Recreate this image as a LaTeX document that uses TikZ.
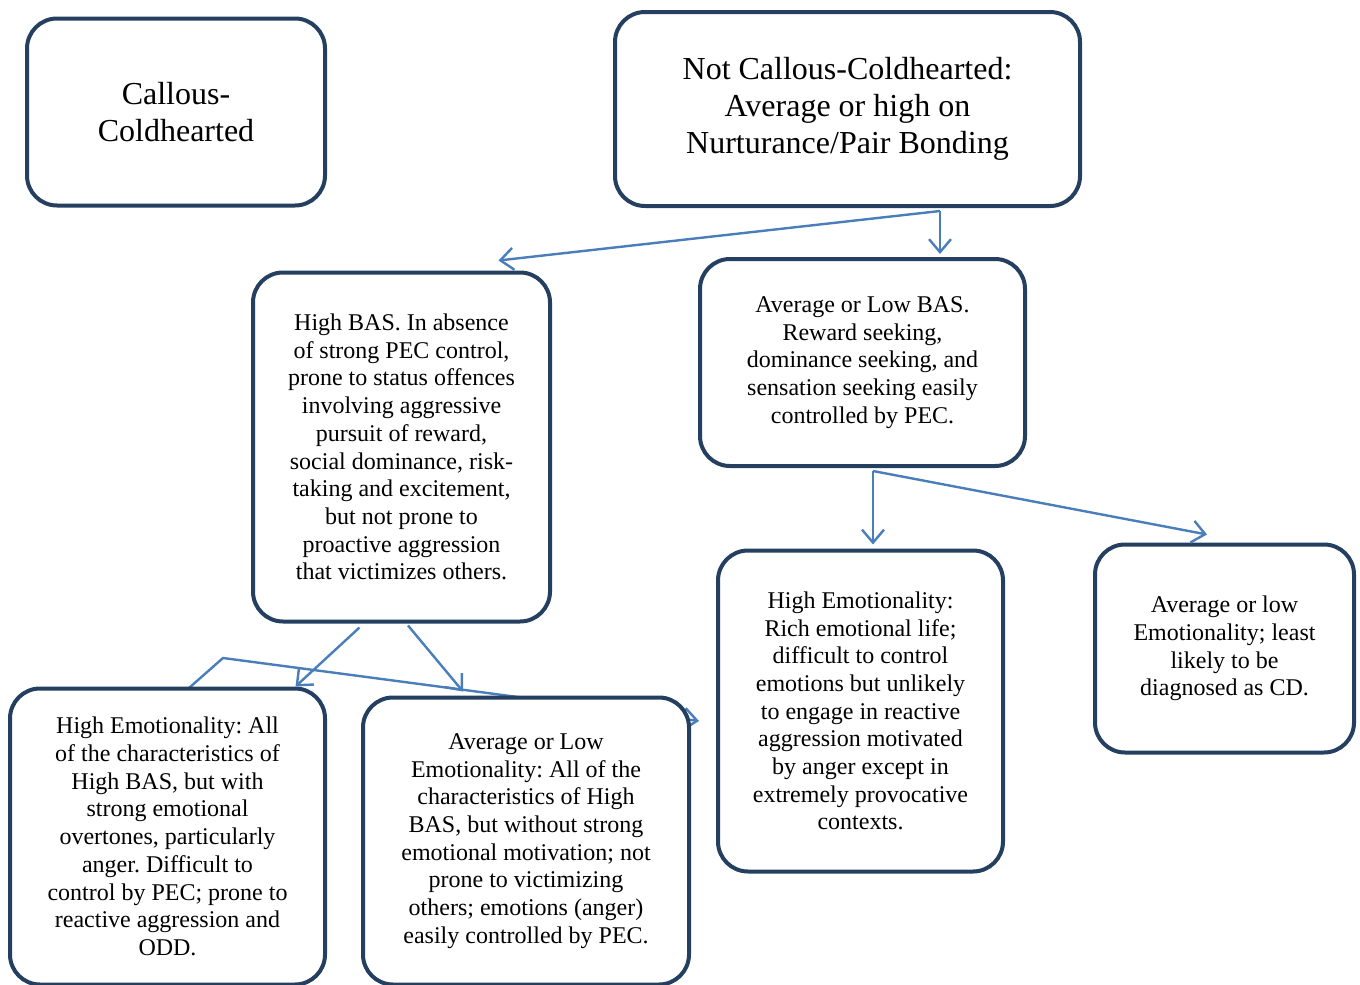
\documentclass[tikz,border=0pt]{standalone}
\usepackage{fontspec}
\setmainfont{Liberation Serif}
\usetikzlibrary{arrows.meta}
\definecolor{boxline}{HTML}{243F60}
\definecolor{arrowc}{HTML}{4A7EBB}
\frenchspacing
\tikzset{
  box/.style={draw=boxline, line width=4pt, rounded corners=30pt, fill=white,
    align=center, inner sep=0pt, text=black},
  bigtxt/.style={font=\fontsize{32}{37}\selectfont},
  smalltxt/.style={font=\fontsize{24}{27.7}\selectfont},
  arr/.style={draw=arrowc, line width=2.4pt, -{Straight Barb[length=13pt,width=22pt,line width=2.4pt]}}
}
\begin{document}
\begin{tikzpicture}[x=1pt,y=-1pt]
\useasboundingbox (0,0) rectangle (1360,985);
% stray connector (drawn first, partly hidden by box F)
\coordinate (k0) at (189,688);
\coordinate (k1) at (223,658);
\coordinate (k2) at (699,721);
\draw[arr] (k0) -- (k1) -- (k2);
% boxes
\node[box, bigtxt, minimum width=298pt, minimum height=187pt] (A) at (176,112)
  {Callous-\\Coldhearted};
\node[box, bigtxt, minimum width=465pt, minimum height=194pt] (B) at (847.5,109)
  {Not Callous-Coldhearted:\\Average or high on\\Nurturance/Pair Bonding};
\node[box, smalltxt, minimum width=297pt, minimum height=349pt] (C) at (401.5,447)
  {High BAS. In absence\\of strong PEC control,\\prone to status offences\\involving aggressive\\pursuit of reward,\\social dominance, risk-\\taking and excitement,\\but not prone to\\proactive aggression\\that victimizes others.};
\node[box, smalltxt, minimum width=325pt, minimum height=207pt] (D) at (862.5,362.5)
  {Average or Low BAS.\\Reward seeking,\\dominance seeking, and\\sensation seeking easily\\controlled by PEC.};
\node[box, smalltxt, minimum width=315pt, minimum height=296pt] (E) at (167.5,836.5)
  {High Emotionality: All\\of the characteristics of\\High BAS, but with\\strong emotional\\overtones, particularly\\anger. Difficult to\\control by PEC; prone to\\reactive aggression and\\ODD.};
\node[box, smalltxt, minimum width=326pt, minimum height=287pt] (F) at (526,841)
  {Average or Low\\Emotionality: All of the\\characteristics of High\\BAS, but without strong\\emotional motivation; not\\prone to victimizing\\others; emotions (anger)\\easily controlled by PEC.};
\node[box, smalltxt, minimum width=285pt, minimum height=321pt] (G) at (860.5,711)
  {High Emotionality:\\Rich emotional life;\\difficult to control\\emotions but unlikely\\to engage in reactive\\aggression motivated\\by anger except in\\extremely provocative\\contexts.};
\node[box, smalltxt, minimum width=259pt, minimum height=208pt] (H) at (1224.5,648.5)
  {Average or low\\Emotionality; least\\likely to be\\diagnosed as CD.};
% connectors
\draw[arr] ([xshift=92.5pt,yshift=-3pt]B.south) -- ([xshift=77.5pt,yshift=3pt]D.north);
\draw[arr] ([xshift=92.5pt,yshift=-3pt]B.south) -- ([xshift=97pt,yshift=10pt]C.north);
\draw[arr] ([xshift=10.5pt,yshift=-3pt]D.south) -- ([xshift=12.5pt,yshift=4pt]G.north);
\draw[arr] ([xshift=10.5pt,yshift=-3pt]D.south) -- ([xshift=-17.5pt,yshift=8pt]H.north);
\draw[arr] ([xshift=-42pt,yshift=-4pt]C.south) -- ([xshift=128pt,yshift=0pt]E.north);
\draw[arr] ([xshift=6.5pt,yshift=-2pt]C.south) -- ([xshift=-63pt,yshift=4pt]F.north);
\end{tikzpicture}
\end{document}
